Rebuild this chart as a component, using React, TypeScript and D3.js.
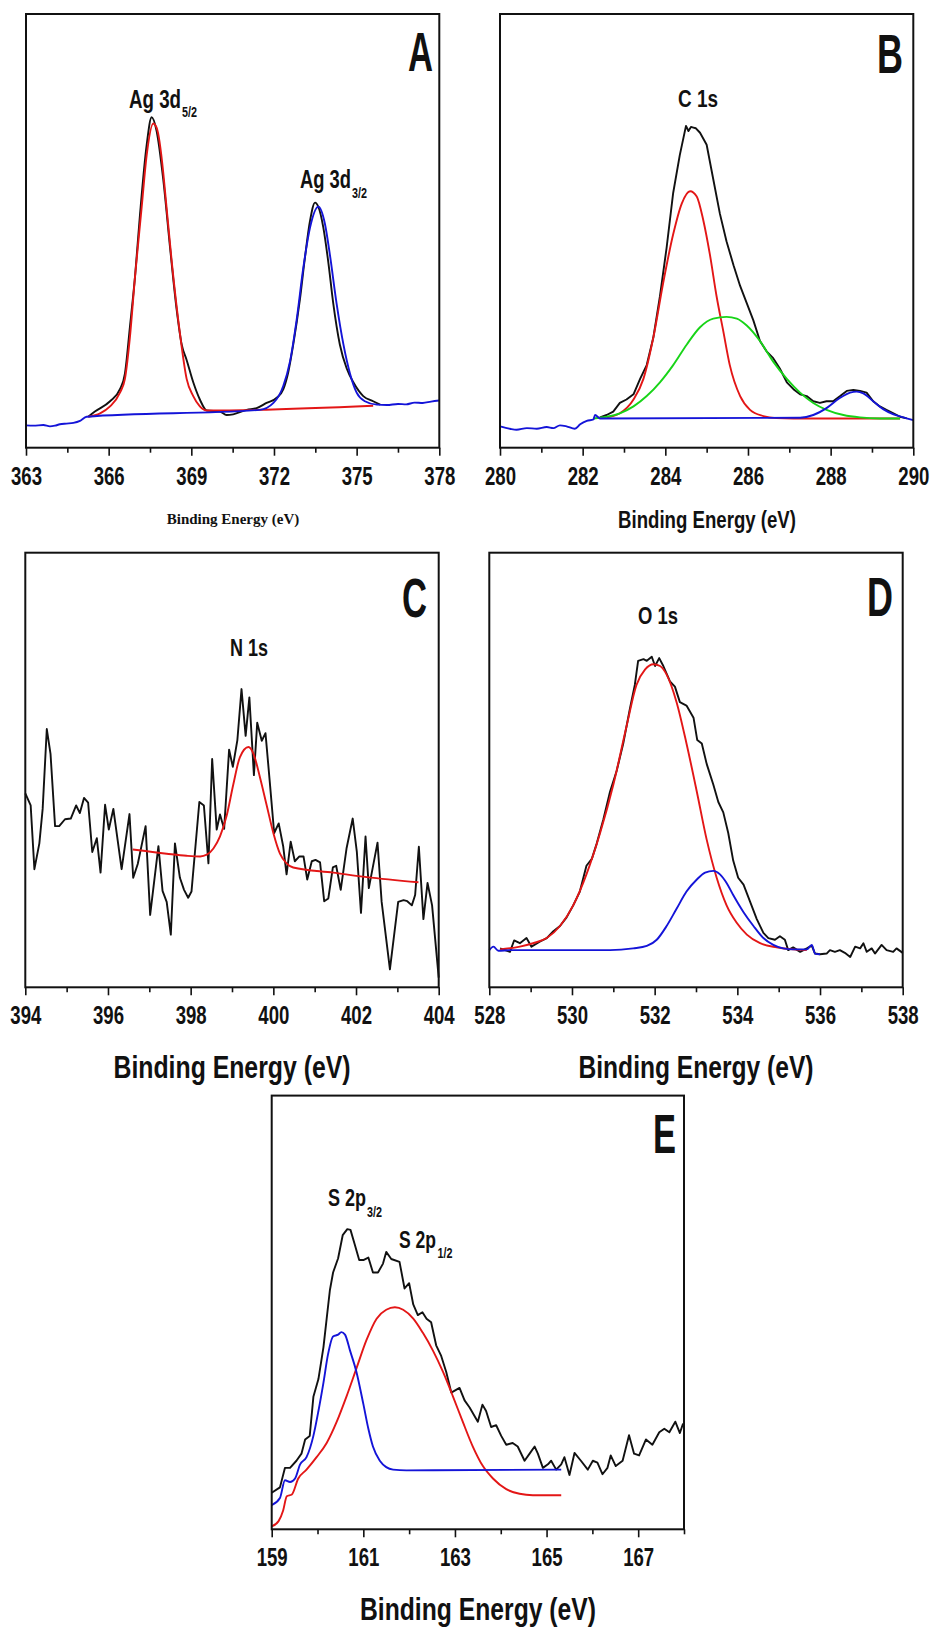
import React, { useEffect, useRef } from 'react';
import * as d3 from 'd3';

// ---- data (binding energy in eV, intensity in arbitrary counts) ----

// A: Ag 3d
const agTicks = [363, 366, 369, 372, 375, 378];
const agMinor = [364.5, 367.5, 370.5, 373.5, 376.5];
const agBlack: [number, number][] = [
  [365.26, 90], [365.5, 105], [366.05, 135], [366.41, 170], [366.59, 215], [366.77, 350],
  [366.96, 500], [367.14, 680], [367.38, 880], [367.56, 960], [367.74, 920], [367.98, 780],
  [368.23, 580], [368.47, 400], [368.65, 300], [368.83, 255], [369.07, 190], [369.31, 140],
  [369.56, 108], [370.04, 105], [370.28, 95], [370.52, 97], [371.01, 110], [371.37, 115],
  [371.73, 130], [372.1, 145], [372.34, 170], [372.52, 220], [372.7, 300], [372.94, 430],
  [373.12, 550], [373.31, 660], [373.49, 712], [373.61, 700], [373.79, 640], [373.97, 540],
  [374.15, 420], [374.39, 300], [374.64, 230], [374.88, 190], [375.24, 150], [375.6, 135],
  [375.85, 125],
];
const agRed: [number, number][] = [
  [365.26, 90], [365.69, 100], [366.05, 120], [366.41, 160], [366.59, 200], [366.77, 320],
  [366.96, 500], [367.2, 700], [367.38, 850], [367.62, 942], [367.74, 930], [367.98, 800],
  [368.04, 750], [368.29, 540], [368.59, 330], [368.83, 200], [369.07, 150], [369.31, 120],
  [369.56, 108], [375.6, 122],
];
const agBlue: [number, number][] = [
  [363.0, 65], [363.27, 64], [363.63, 66], [363.87, 62], [364.05, 64], [364.23, 68],
  [364.47, 70], [364.72, 72], [364.96, 78], [365.2, 90], [371.49, 110], [371.98, 130],
  [372.34, 180], [372.58, 250], [372.82, 370], [373.06, 520], [373.31, 640], [373.61, 700],
  [373.85, 650], [374.03, 560], [374.27, 420], [374.52, 300], [374.76, 215], [375.0, 160],
  [375.3, 135], [375.73, 125], [376.1, 124], [376.5, 127], [376.8, 126], [377.1, 131],
  [377.4, 130], [377.7, 134], [378.0, 137],
];

// B: C 1s
const cTicks = [280, 282, 284, 286, 288, 290];
const cMinor = [281, 283, 285, 287, 289];
const cBlack: [number, number][] = [
  [282.42, 88], [282.58, 95], [282.74, 105], [282.9, 130], [283.06, 140], [283.23, 155],
  [283.39, 200], [283.55, 240], [283.71, 320], [283.87, 440], [284.03, 580], [284.19, 740],
  [284.35, 850], [284.5, 935], [284.56, 920], [284.62, 932], [284.68, 930], [284.74, 928],
  [284.84, 915], [285.0, 880], [285.16, 780], [285.32, 680], [285.48, 600], [285.65, 530],
  [285.81, 470], [285.97, 420], [286.13, 370], [286.29, 310], [286.45, 280], [286.61, 260],
  [286.77, 230], [286.94, 190], [287.1, 170], [287.26, 155], [287.42, 150], [287.58, 135],
  [287.74, 130], [287.9, 135], [288.06, 135], [288.23, 150], [288.39, 165], [288.55, 168],
  [288.71, 165], [288.87, 160], [289.03, 135], [289.19, 120], [289.35, 110], [289.52, 100],
  [289.68, 90], [289.84, 85],
];
const cRed: [number, number][] = [
  [282.58, 88], [282.9, 100], [283.23, 140], [283.47, 200], [283.71, 320], [283.95, 480],
  [284.19, 620], [284.4, 710], [284.6, 745], [284.76, 730], [284.92, 660], [285.08, 560],
  [285.24, 440], [285.4, 340], [285.56, 240], [285.81, 150], [286.05, 110], [286.37, 92],
  [286.69, 86], [287.1, 85], [289.68, 85],
];
const cGreen: [number, number][] = [
  [282.26, 85], [282.58, 90], [282.9, 100], [283.23, 120], [283.55, 150], [283.87, 190],
  [284.19, 240], [284.52, 300], [284.84, 350], [285.16, 375], [285.48, 380], [285.73, 375],
  [285.97, 355], [286.29, 310], [286.61, 250], [286.94, 200], [287.26, 160], [287.58, 130],
  [287.9, 110], [288.31, 95], [288.71, 88], [289.19, 85], [289.68, 85],
];
const cBlue: [number, number][] = [
  [280.0, 62], [280.24, 55], [280.4, 52], [280.65, 57], [280.89, 55], [281.13, 60],
  [281.29, 57], [281.45, 65], [281.61, 62], [281.81, 55], [281.94, 68], [282.1, 78],
  [282.26, 82], [282.3, 95], [282.42, 85], [287.26, 87], [287.58, 95], [287.9, 115],
  [288.23, 145], [288.47, 160], [288.63, 163], [288.79, 158], [289.03, 135], [289.27, 112],
  [289.52, 97], [289.76, 88], [290.0, 80],
];

// C: N 1s
const nTicks = [394, 396, 398, 400, 402, 404];
const nMinor = [395, 397, 399, 401, 403];
const nBlack: [number, number][] = [
  [394.0, 563], [394.13, 528], [394.22, 343], [394.34, 418], [394.42, 518], [394.52, 750],
  [394.61, 678], [394.72, 468], [394.82, 468], [394.96, 488], [395.1, 490], [395.23, 528],
  [395.32, 506], [395.42, 550], [395.52, 536], [395.62, 393], [395.73, 433], [395.82, 333],
  [395.93, 530], [396.02, 458], [396.13, 518], [396.33, 343], [396.52, 503], [396.61, 318],
  [396.72, 358], [396.91, 468], [397.02, 210], [397.22, 410], [397.32, 280], [397.42, 248],
  [397.52, 153], [397.62, 418], [397.74, 318], [397.84, 283], [397.94, 260], [398.02, 278],
  [398.21, 538], [398.32, 528], [398.43, 360], [398.52, 663], [398.63, 458], [398.71, 502],
  [398.81, 460], [398.93, 690], [399.02, 640], [399.13, 718], [399.23, 866], [399.33, 730],
  [399.42, 842], [399.53, 616], [399.61, 768], [399.72, 716], [399.81, 738], [399.92, 588],
  [400.02, 448], [400.13, 476], [400.24, 408], [400.32, 328], [400.42, 423], [400.52, 366],
  [400.63, 380], [400.73, 380], [400.82, 313], [400.93, 366], [401.02, 370], [401.13, 363],
  [401.23, 250], [401.33, 258], [401.44, 348], [401.52, 353], [401.63, 283], [401.77, 403],
  [401.92, 490], [402.02, 393], [402.12, 216], [402.23, 438], [402.31, 288], [402.52, 420],
  [402.62, 248], [402.82, 52], [403.02, 248], [403.15, 253], [403.24, 250], [403.35, 238],
  [403.43, 268], [403.52, 408], [403.63, 198], [403.73, 303], [403.84, 238], [404.0, 28],
];
const nRed: [number, number][] = [
  [396.6, 400], [397.42, 388], [397.9, 382], [398.23, 380], [398.39, 385], [398.55, 403],
  [398.71, 438], [398.87, 498], [399.03, 588], [399.19, 668], [399.4, 698], [399.52, 678],
  [399.68, 608], [399.84, 528], [400.0, 448], [400.16, 388], [400.32, 360], [400.48, 348],
  [401.45, 333], [402.26, 320], [403.51, 305],
];

// D: O 1s
const oTicks = [528, 530, 532, 534, 536, 538];
const oMinor = [529, 531, 533, 535, 537];
const oBlack: [number, number][] = [
  [528.26, 113], [528.5, 103], [528.6, 136], [528.74, 128], [528.9, 143], [529.02, 118],
  [529.23, 133], [529.39, 143], [529.55, 163], [529.71, 178], [529.87, 203], [530.03, 238],
  [530.19, 278], [530.35, 353], [530.48, 373], [530.6, 418], [530.76, 488], [530.92, 568],
  [531.08, 628], [531.24, 708], [531.4, 808], [531.52, 878], [531.6, 948], [531.73, 953],
  [531.81, 948], [531.93, 960], [532.01, 933], [532.11, 956], [532.21, 933], [532.37, 888],
  [532.49, 873], [532.61, 828], [532.77, 818], [532.94, 783], [533.03, 718], [533.14, 708],
  [533.26, 648], [533.42, 588], [533.54, 538], [533.66, 508], [533.78, 448], [533.9, 368],
  [534.02, 318], [534.15, 298], [534.31, 248], [534.47, 198], [534.63, 158], [534.75, 143],
  [534.91, 138], [535.03, 148], [535.15, 138], [535.23, 108], [535.35, 116], [535.52, 103],
  [535.68, 113], [535.8, 121], [535.88, 98], [536.0, 96], [536.16, 98], [536.24, 108],
  [536.36, 103], [536.48, 108], [536.6, 100], [536.73, 88], [536.85, 118], [536.97, 113],
  [537.05, 128], [537.13, 103], [537.25, 113], [537.33, 98], [537.49, 123], [537.61, 108],
  [537.77, 103], [537.85, 113], [538.0, 100],
];
const oRed: [number, number][] = [
  [528.26, 110], [528.74, 118], [529.06, 128], [529.39, 143], [529.71, 178], [530.03, 238],
  [530.35, 328], [530.68, 448], [531.0, 588], [531.32, 758], [531.56, 878], [531.77, 923],
  [531.97, 938], [532.13, 933], [532.29, 908], [532.53, 828], [532.77, 708], [533.02, 568],
  [533.26, 428], [533.5, 318], [533.74, 238], [533.98, 188], [534.23, 153], [534.55, 128],
  [534.95, 116], [535.35, 110], [535.68, 108],
];
const oBlue: [number, number][] = [
  [528.0, 108], [528.1, 118], [528.22, 106], [528.5, 108], [530.92, 108], [531.48, 113],
  [531.81, 120], [532.05, 138], [532.29, 178], [532.53, 228], [532.77, 278], [533.02, 313],
  [533.22, 333], [533.42, 338], [533.58, 328], [533.74, 303], [533.9, 268], [534.15, 218],
  [534.39, 178], [534.63, 143], [534.87, 123], [535.11, 113], [535.35, 110], [535.68, 110],
  [535.8, 123], [535.88, 98], [536.0, 96],
];

// E: S 2p
const sTicks = [159, 161, 163, 165, 167];
const sMinor = [160, 162, 164, 166, 168];
const sBlack: [number, number][] = [
  [159.0, 103], [159.18, 118], [159.29, 173], [159.4, 173], [159.54, 193], [159.65, 213],
  [159.73, 253], [159.83, 263], [159.91, 373], [160.02, 423], [160.13, 513], [160.2, 593],
  [160.27, 673], [160.34, 723], [160.45, 763], [160.55, 828], [160.65, 845], [160.72, 843],
  [160.81, 803], [160.91, 758], [161.0, 758], [161.11, 765], [161.21, 723], [161.32, 723],
  [161.43, 748], [161.5, 781], [161.61, 761], [161.79, 753], [161.9, 678], [162.0, 693],
  [162.09, 633], [162.19, 603], [162.29, 611], [162.38, 593], [162.48, 583], [162.59, 518],
  [162.7, 488], [162.81, 443], [162.92, 385], [163.1, 398], [163.21, 363], [163.32, 343],
  [163.5, 303], [163.6, 351], [163.68, 333], [163.79, 288], [163.9, 293], [164.01, 263],
  [164.12, 238], [164.26, 243], [164.37, 233], [164.52, 193], [164.63, 213], [164.74, 233],
  [164.81, 213], [164.92, 173], [165.03, 183], [165.1, 193], [165.21, 168], [165.32, 183],
  [165.39, 203], [165.5, 153], [165.61, 215], [165.75, 193], [165.9, 168], [166.01, 193],
  [166.11, 188], [166.22, 155], [166.33, 173], [166.4, 208], [166.51, 178], [166.66, 193],
  [166.8, 265], [166.91, 213], [167.02, 208], [167.17, 253], [167.31, 238], [167.46, 273],
  [167.57, 283], [167.68, 273], [167.81, 303], [167.91, 271], [167.98, 298],
];
const sRed: [number, number][] = [
  [159.0, 8], [159.15, 23], [159.25, 53], [159.33, 93], [159.44, 98], [159.58, 143],
  [159.76, 168], [159.98, 203], [160.2, 243], [160.42, 303], [160.63, 373], [160.85, 453],
  [161.07, 533], [161.29, 593], [161.5, 618], [161.69, 625], [161.87, 618], [162.09, 593],
  [162.3, 553], [162.52, 503], [162.74, 443], [162.96, 373], [163.17, 303], [163.39, 233],
  [163.61, 178], [163.83, 143], [164.12, 113], [164.41, 100], [164.7, 96], [165.32, 96],
];
const sBlue: [number, number][] = [
  [159.0, 68], [159.18, 88], [159.29, 138], [159.4, 133], [159.51, 143], [159.62, 183],
  [159.76, 203], [159.91, 263], [160.02, 333], [160.13, 413], [160.23, 493], [160.34, 543],
  [160.45, 548], [160.52, 555], [160.6, 548], [160.71, 503], [160.85, 443], [161.0, 353],
  [161.11, 283], [161.21, 233], [161.36, 193], [161.5, 175], [161.65, 168], [161.94, 166],
  [165.32, 168],
];

// ---- styling ----
const NARROW = "'Liberation Sans Narrow', 'Arial Narrow', 'Liberation Sans', Arial, sans-serif";
const SERIF = "'Liberation Serif', 'Times New Roman', serif";
const BLACK = '#111111';
const RED = '#e31616';
const BLUE = '#1414d8';
const GREEN = '#18d418';

type Pt = [number, number];
type Series = { data: Pt[]; color: string; smooth: boolean };
type PanelCfg = {
  key: string;
  x: number; y: number; w: number; h: number;
  xDomain: [number, number];
  yMax: number;
  major: number[];
  minor: number[];
  series: Series[];
};

const panels: PanelCfg[] = [
  {
    key: 'A', x: 26, y: 14, w: 413.3, h: 433.7, xDomain: [363, 378], yMax: 1260,
    major: agTicks, minor: agMinor,
    series: [
      { data: agBlack, color: BLACK, smooth: true },
      { data: agRed, color: RED, smooth: true },
      { data: agBlue, color: BLUE, smooth: true },
    ],
  },
  {
    key: 'B', x: 500, y: 14, w: 413.3, h: 433.7, xDomain: [280, 290], yMax: 1260,
    major: cTicks, minor: cMinor,
    series: [
      { data: cBlack, color: BLACK, smooth: false },
      { data: cRed, color: RED, smooth: true },
      { data: cGreen, color: GREEN, smooth: true },
      { data: cBlue, color: BLUE, smooth: true },
    ],
  },
  {
    key: 'C', x: 25.3, y: 552.7, w: 413.4, h: 434.6, xDomain: [394, 404], yMax: 1262,
    major: nTicks, minor: nMinor,
    series: [
      { data: nBlack, color: BLACK, smooth: false },
      { data: nRed, color: RED, smooth: true },
    ],
  },
  {
    key: 'D', x: 489.3, y: 552.7, w: 413.4, h: 434.6, xDomain: [528, 538], yMax: 1262,
    major: oTicks, minor: oMinor,
    series: [
      { data: oBlack, color: BLACK, smooth: false },
      { data: oRed, color: RED, smooth: true },
      { data: oBlue, color: BLUE, smooth: true },
    ],
  },
  {
    key: 'E', x: 271.7, y: 1095.6, w: 412.3, h: 433.7, xDomain: [159, 168], yMax: 1221,
    major: sTicks, minor: sMinor,
    series: [
      { data: sBlack, color: BLACK, smooth: false },
      { data: sRed, color: RED, smooth: true },
      { data: sBlue, color: BLUE, smooth: true },
    ],
  },
];

const Panel = ({ p }: { p: PanelCfg }) => {
  const axisRef = useRef<SVGGElement>(null);
  const xs = d3.scaleLinear().domain(p.xDomain).range([0, p.w]);
  const ys = d3.scaleLinear().domain([0, p.yMax]).range([p.h, 0]);

  useEffect(() => {
    const g = d3.select(axisRef.current);
    g.selectAll('*').remove();
    g.append('g')
      .call(d3.axisBottom(xs).tickValues(p.minor).tickSize(5).tickFormat(() => ''));
    const major = g.append('g')
      .call(d3.axisBottom(xs).tickValues(p.major).tickSize(8).tickFormat(d3.format('d')));
    g.selectAll('.domain').remove();
    g.selectAll('.tick line').attr('stroke', BLACK).attr('stroke-width', 1.6);
    major.selectAll('.tick text')
      .attr('y', 37)
      .attr('dy', null)
      .attr('fill', BLACK)
      .attr('font-family', NARROW)
      .attr('font-weight', 'bold')
      .attr('font-size', 26)
      .attr('textLength', 31)
      .attr('lengthAdjust', 'spacingAndGlyphs');
  }, []);

  return (
    <g transform={`translate(${p.x},${p.y})`}>
      {p.series.map((s, i) => {
        const line = d3.line<Pt>()
          .x(d => xs(d[0]))
          .y(d => ys(d[1]))
          .curve(s.smooth ? d3.curveMonotoneX : d3.curveLinear);
        return <path key={i} d={line(s.data) || ''} fill="none" stroke={s.color}
                     strokeWidth={1.9} strokeLinejoin="round" />;
      })}
      <rect x={0} y={0} width={p.w} height={p.h} fill="none" stroke={BLACK} strokeWidth={2} />
      <g ref={axisRef} transform={`translate(0,${p.h})`} />
    </g>
  );
};

const T = ({ x, y, size, w, anchor = 'start', family = NARROW, children }:
  { x: number; y: number; size: number; w?: number; anchor?: string; family?: string; children: React.ReactNode }) => (
  <text x={x} y={y} fontSize={size} fontFamily={family} fontWeight="bold" fill={BLACK}
        textAnchor={anchor} textLength={w} lengthAdjust={w ? 'spacingAndGlyphs' : undefined}>
    {children}
  </text>
);

export default function App() {
  return (
    <svg width={933} height={1627} viewBox="0 0 933 1627"
         style={{ position: 'absolute', left: 0, top: 0, display: 'block', background: '#fff' }}>
      <rect x={0} y={0} width={933} height={1627} fill="#fff" />
      {panels.map(p => <Panel key={p.key} p={p} />)}

      {/* panel letters */}
      <T x={420.5} y={71} size={56} w={25} anchor="middle">A</T>
      <T x={890} y={73} size={56} w={26} anchor="middle">B</T>
      <T x={414.5} y={617} size={56} w={25} anchor="middle">C</T>
      <T x={880} y={616} size={56} w={26} anchor="middle">D</T>
      <T x={664.5} y={1153} size={56} w={23} anchor="middle">E</T>

      {/* peak labels */}
      <T x={129} y={107.5} size={25} w={52}>Ag 3d</T>
      <T x={182} y={117} size={14} w={15}>5/2</T>
      <T x={300} y={188} size={25} w={51}>Ag 3d</T>
      <T x={352} y={198} size={14} w={15}>3/2</T>
      <T x={678} y={106.5} size={24} w={40}>C 1s</T>
      <T x={230} y={655.5} size={24} w={38}>N 1s</T>
      <T x={638} y={623.5} size={24} w={40}>O 1s</T>
      <T x={328} y={1206} size={24} w={38}>S 2p</T>
      <T x={367} y={1216.5} size={14} w={15}>3/2</T>
      <T x={399} y={1247.5} size={24} w={37}>S 2p</T>
      <T x={437.5} y={1258} size={14} w={15}>1/2</T>

      {/* axis titles */}
      <T x={233} y={524} size={15} anchor="middle" family={SERIF}>Binding Energy (eV)</T>
      <T x={707} y={528} size={23} w={178} anchor="middle">Binding Energy (eV)</T>
      <T x={232} y={1078} size={32} w={237} anchor="middle">Binding Energy (eV)</T>
      <T x={696} y={1078} size={32} w={235} anchor="middle">Binding Energy (eV)</T>
      <T x={478} y={1620} size={32} w={236} anchor="middle">Binding Energy (eV)</T>
    </svg>
  );
}
